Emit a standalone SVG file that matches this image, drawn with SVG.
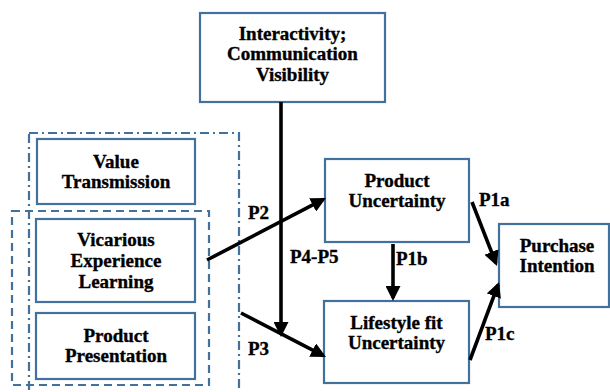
<svg xmlns="http://www.w3.org/2000/svg" width="610" height="392" viewBox="0 0 610 392">
<style>
.box{fill:#fff;stroke:#41719C;stroke-width:2.2}
.t{font-family:'Liberation Serif',serif;font-weight:bold;font-size:19px;fill:#000;stroke:#000;stroke-width:0.35;text-anchor:middle}
.l{font-family:'Liberation Serif',serif;font-weight:bold;font-size:19px;fill:#000;stroke:#000;stroke-width:0.35}
.c{fill:none;stroke:#000;stroke-width:3.6}
</style>
<defs>
<marker id="ah" markerUnits="userSpaceOnUse" markerWidth="15" markerHeight="15" refX="12" refY="7.5" orient="auto" viewBox="0 0 15 15">
<path d="M0,0 L15,7.5 L0,15 z" fill="#000"/>
</marker>
</defs>
<rect width="610" height="392" fill="#fff"/>
<g id="groups">
<rect x="29" y="133" width="210" height="270" fill="none" stroke="#41719C" stroke-width="2.2" stroke-dasharray="9 4 2 4"/>
<rect x="12" y="211" width="197" height="174" fill="none" stroke="#41719C" stroke-width="2.2" stroke-dasharray="8 5"/>
</g>
<g id="n_interactivity">
<rect class="box" x="200" y="13" width="185" height="89"/>
<text class="t" x="292.5" y="39.5">Interactivity;</text>
<text class="t" x="292.5" y="60">Communication</text>
<text class="t" x="292.5" y="80.5">Visibility</text>
</g>
<g id="n_value">
<rect class="box" x="37" y="139" width="158" height="65"/>
<text class="t" x="116" y="167.5">Value</text>
<text class="t" x="116" y="188">Transmission</text>
</g>
<g id="n_vicarious">
<rect class="box" x="36" y="219" width="159" height="83"/>
<text class="t" x="116" y="246">Vicarious</text>
<text class="t" x="116" y="267">Experience</text>
<text class="t" x="116" y="288">Learning</text>
</g>
<g id="n_presentation">
<rect class="box" x="36" y="313" width="159" height="66"/>
<text class="t" x="116" y="341.5">Product</text>
<text class="t" x="116" y="362">Presentation</text>
</g>
<g id="n_product_uncertainty">
<rect class="box" x="325" y="159" width="144" height="83"/>
<text class="t" x="397" y="186.5">Product</text>
<text class="t" x="397" y="207">Uncertainty</text>
</g>
<g id="n_lifestyle">
<rect class="box" x="324" y="301" width="145" height="82"/>
<text class="t" x="396.5" y="329">Lifestyle fit</text>
<text class="t" x="396.5" y="349">Uncertainty</text>
</g>
<g id="n_purchase">
<rect class="box" x="499" y="224" width="110" height="83"/>
<text class="t" x="557" y="251.5">Purchase</text>
<text class="t" x="557" y="272">Intention</text>
</g>
<g id="connectors">
<line class="c" x1="281" y1="102" x2="281" y2="334" marker-end="url(#ah)"/>
<line class="c" x1="207" y1="260" x2="323.3" y2="199.4" marker-end="url(#ah)"/>
<line class="c" x1="241" y1="313" x2="323.3" y2="355.6" marker-end="url(#ah)"/>
<line class="c" x1="393" y1="244" x2="393" y2="298" marker-end="url(#ah)"/>
<line class="c" x1="472" y1="202" x2="495.9" y2="263.2" marker-end="url(#ah)"/>
<line class="c" x1="470" y1="360" x2="498" y2="284.8" marker-end="url(#ah)"/>
<text class="l" x="248" y="219">P2</text>
<text class="l" x="290" y="263">P4-P5</text>
<text class="l" x="248" y="354.5">P3</text>
<text class="l" x="396" y="264.5">P1b</text>
<text class="l" x="479" y="205.5">P1a</text>
<text class="l" x="485" y="339.5">P1c</text>
</g>
</svg>
